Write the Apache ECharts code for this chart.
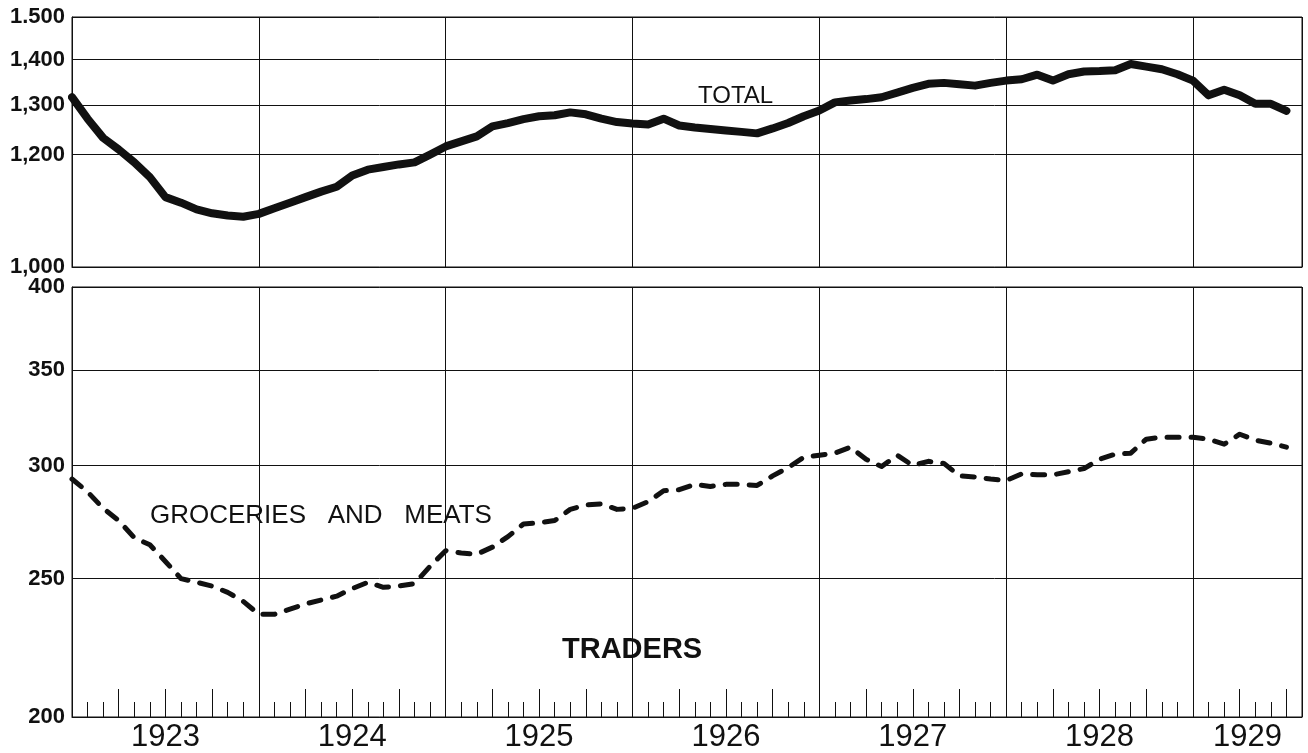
<!DOCTYPE html>
<html>
<head>
<meta charset="utf-8">
<title>Traders</title>
<script src="https://cdn.jsdelivr.net/npm/echarts@6/dist/echarts.min.js"></script>
<style>
  html, body { margin: 0; padding: 0; background: #fff; }
  #chart-wrapper { width: 1308px; height: 753px; }
</style>
</head>
<body>
<div id="chart-wrapper"></div>
<script>
// months counted from Jan 1923 (index 0) to Jul 1929 (index 78)
const years = ["1923", "1924", "1925", "1926", "1927", "1928", "1929"];
const yearLabelPos = [6, 18, 30, 42, 54, 66, 75.5];

const totalTicks = [1000, 1200, 1300, 1400, 1500];
const totalTickLabels = ["1,000", "1,200", "1,300", "1,400", "1.500"];
const groceryTicks = [200, 250, 300, 350, 400];
const groceryTickLabels = ["200", "250", "300", "350", "400"];

const totalValues = [
  1317, 1272, 1233, 1210, 1185, 1157, 1120, 1110, 1098, 1091,
  1087, 1085, 1090, 1100, 1110, 1120, 1130, 1139, 1160, 1171,
  1176, 1181, 1185, 1200, 1216, 1226, 1236, 1256, 1263, 1271,
  1277, 1279, 1285, 1281, 1272, 1265, 1262, 1260, 1272, 1258,
  1254, 1251, 1248, 1245, 1242, 1252, 1263, 1277, 1289, 1306,
  1310, 1313, 1317, 1327, 1337, 1346, 1348, 1345, 1342, 1348,
  1353, 1356, 1366, 1353, 1367, 1373, 1374, 1376, 1390, 1384,
  1378, 1367, 1353, 1321, 1333, 1321, 1303, 1303, 1288,
];

const groceryValues = [
  293.5, 287.5, 280, 274.5, 267, 264, 257, 250, 248.5, 247,
  244.5, 241, 236, 236, 238, 240, 241.5, 243, 246, 248.5,
  246.5, 247, 248, 255, 261.5, 260.5, 260, 263, 267.5, 273,
  273.5, 274.5, 279.5, 281.5, 282, 279.5, 280, 283, 288, 288.5,
  291, 290, 291, 291, 290.5, 295, 299, 304, 305, 306,
  309, 303, 299.5, 305, 300, 302, 301, 295, 294.5, 293.5,
  292.8, 296, 295.5, 295.5, 297, 298.5, 303, 305.5, 306, 313,
  314, 314, 314, 313, 310.5, 315.5, 312.5, 311, 309,
];

const ink = "#111";
const fontFamily = "'Liberation Sans', Arial, sans-serif";
const monthMax = 79;

const toLog = (v) => Math.log10(v);

const nearestLabel = (ticks, labels) => (value) => {
  let best = 0;
  ticks.forEach((t, i) => {
    if (Math.abs(toLog(t) - value) < Math.abs(toLog(ticks[best]) - value)) best = i;
  });
  return labels[best];
};

const yAxisFor = (gridIndex, ticks, labels) => ({
  type: "value",
  gridIndex: gridIndex,
  min: toLog(ticks[0]),
  max: toLog(ticks[ticks.length - 1]),
  axisLine: { show: true, lineStyle: { color: ink, width: 1 } },
  axisTick: { show: false, customValues: ticks.map(toLog) },
  axisLabel: {
    customValues: ticks.map(toLog),
    formatter: nearestLabel(ticks, labels),
    margin: 7,
    fontSize: 22,
    fontWeight: "bold",
    fontFamily: fontFamily,
    color: ink,
  },
  splitLine: { show: true, lineStyle: { color: ink, width: 1 } },
});

const tickAxis = (interval, length) => ({
  type: "value",
  gridIndex: 1,
  position: "bottom",
  min: 0,
  max: monthMax,
  interval: interval,
  axisLine: { show: false },
  axisTick: { show: true, inside: true, length: length, lineStyle: { color: ink, width: 1 } },
  axisLabel: { show: false },
  splitLine: { show: false },
});

const chartDom = document.getElementById("chart-wrapper");
const chart = echarts.init(chartDom, null, { renderer: "canvas" });

const option = {
  backgroundColor: "#fff",
  animation: false,
  grid: [
    { left: 72, right: 6, top: 17, height: 250, show: true, borderColor: ink, borderWidth: 1, backgroundColor: "transparent", outerBoundsMode: "none" },
    { left: 72, right: 6, top: 287, height: 430, show: true, borderColor: ink, borderWidth: 1, backgroundColor: "transparent", outerBoundsMode: "none" },
  ],
  xAxis: [
    {
      type: "value",
      gridIndex: 0,
      position: "bottom",
      min: 0,
      max: monthMax,
      interval: 12,
      axisLine: { show: true, lineStyle: { color: ink, width: 1 } },
      axisTick: { show: false },
      axisLabel: { show: false },
      splitLine: { show: true, lineStyle: { color: ink, width: 1 } },
    },
    {
      type: "value",
      gridIndex: 1,
      position: "bottom",
      min: 0,
      max: monthMax,
      interval: 12,
      axisLine: { show: true, lineStyle: { color: ink, width: 1 } },
      axisTick: { show: false },
      axisLabel: {
        customValues: yearLabelPos,
        formatter: function (value) {
          let best = 0;
          yearLabelPos.forEach((p, i) => {
            if (Math.abs(p - value) < Math.abs(yearLabelPos[best] - value)) best = i;
          });
          return years[best];
        },
        margin: 5,
        fontSize: 31,
        fontFamily: fontFamily,
        color: ink,
      },
      splitLine: { show: true, lineStyle: { color: ink, width: 1 } },
    },
    tickAxis(1, 15),
    tickAxis(3, 28),
  ],
  yAxis: [
    yAxisFor(0, totalTicks, totalTickLabels),
    yAxisFor(1, groceryTicks, groceryTickLabels),
  ],
  graphic: [
    {
      type: "text",
      left: 738 - 40,
      top: 84,
      style: { text: "TOTAL", font: "24px " + fontFamily, fill: ink },
    },
    {
      type: "text",
      x: 144,
      y: 476,
      style: {
        text: "GROCERIES   AND   MEATS",
        font: "26px " + fontFamily,
        fill: ink,
        backgroundColor: "#fff",
        padding: [27, 6, 19, 6],
        verticalAlign: "top",
      },
    },
    {
      type: "text",
      x: 554,
      y: 615,
      style: {
        text: "TRADERS",
        font: "bold 29px " + fontFamily,
        fill: ink,
        backgroundColor: "#fff",
        padding: [20, 8, 8, 8],
        verticalAlign: "top",
      },
    },
  ],
  series: [
    {
      name: "TOTAL",
      type: "line",
      xAxisIndex: 0,
      yAxisIndex: 0,
      data: totalValues.map((v, i) => [i, toLog(v)]),
      symbol: "none",
      silent: true,
      z: 5,
      lineStyle: { color: ink, width: 8, cap: "round", join: "round" },
    },
    {
      name: "GROCERIES AND MEATS",
      type: "line",
      xAxisIndex: 1,
      yAxisIndex: 1,
      data: groceryValues.map((v, i) => [i, toLog(v)]),
      symbol: "none",
      silent: true,
      z: 5,
      lineStyle: { color: ink, width: 5, type: [12, 12], cap: "round", join: "round" },
    },
  ],
};

option && chart.setOption(option);
</script>
</body>
</html>
